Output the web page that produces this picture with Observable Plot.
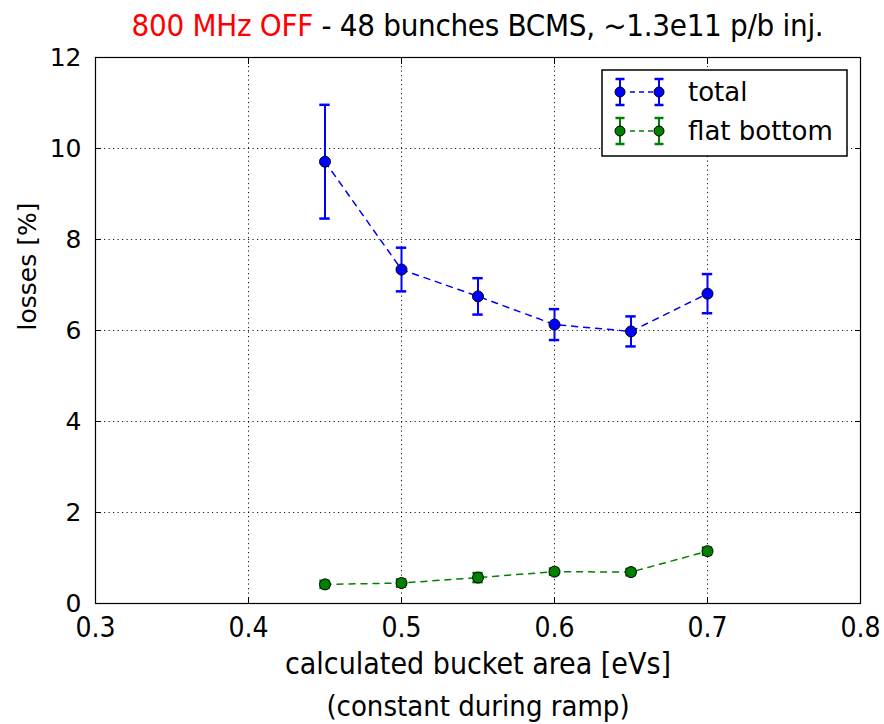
<!DOCTYPE html>
<html><head><meta charset="utf-8">
<script src="https://cdn.jsdelivr.net/npm/d3@7"></script>
<script src="https://cdn.jsdelivr.net/npm/@observablehq/plot@0.6"></script>
<style>
body{margin:0;background:#fff}
#wrap{position:relative;width:884px;height:724px;overflow:hidden}
#title{position:absolute;top:7px;left:95px;width:765px;text-align:center;font:31px "Liberation Sans Narrow","DejaVu Sans Condensed",sans-serif;white-space:nowrap;color:#000;letter-spacing:-0.3px}
#legend{position:absolute;left:601px;top:69px}
</style></head><body>
<div id="wrap"><div id="title"><span style="color:#ff0000">800 MHz OFF</span> - 48 bunches BCMS, ~1.3e11 p/b inj.</div></div>
<script>
const bucketArea = [0.45, 0.5, 0.55, 0.6, 0.65, 0.7];
const totalLoss = [9.71, 7.34, 6.75, 6.13, 5.98, 6.81];
const totalErr  = [1.25, 0.48, 0.40, 0.34, 0.33, 0.43];
const flatLoss  = [0.42, 0.45, 0.57, 0.70, 0.69, 1.15];
const flatErr   = [0.08, 0.08, 0.10, 0.07, 0.07, 0.08];
const xTicks = [0.3, 0.4, 0.5, 0.6, 0.7, 0.8];
const yTicks = [0, 2, 4, 6, 8, 10, 12];
const seriesNames = ["total", "flat bottom"];
const seriesColors = ["#0000ff", "#008000"];

const rows = [];
bucketArea.forEach((x, i) => {
  rows.push({series: seriesNames[0], x, y: totalLoss[i], e: totalErr[i]});
});
bucketArea.forEach((x, i) => {
  rows.push({series: seriesNames[1], x, y: flatLoss[i], e: flatErr[i]});
});
const colorOf = s => seriesColors[seriesNames.indexOf(s)];
const capHalf = 0.0034;

const condensed = '"Liberation Sans Narrow","DejaVu Sans Condensed",sans-serif';

const marks = [
  Plot.gridX(xTicks.slice(1, -1), {stroke: "#000", strokeOpacity: 0.9, strokeDasharray: "1.2,3.3", strokeWidth: 1}),
  Plot.gridY(yTicks.slice(1, -1), {stroke: "#000", strokeOpacity: 0.9, strokeDasharray: "1.2,3.3", strokeWidth: 1}),
  Plot.frame({stroke: "#000", strokeWidth: 1.2}),
  Plot.axisX(xTicks, {anchor: "bottom", tickSize: -6, text: null, label: null, stroke: "#000"}),
  Plot.axisX(xTicks, {anchor: "top", tickSize: -6, text: null, label: null, stroke: "#000"}),
  Plot.axisY(yTicks, {anchor: "left", tickSize: -6, text: null, label: null, stroke: "#000"}),
  Plot.axisY(yTicks, {anchor: "right", tickSize: -6, text: null, label: null, stroke: "#000"}),
  Plot.axisX(xTicks, {anchor: "bottom", tickSize: 0, tickPadding: 14, label: null, fontSize: 28, fontFamily: condensed, fill: "#000", tickFormat: d3.format(".1f")}),
  Plot.axisY(yTicks, {anchor: "left", tickSize: 0, tickPadding: 14, label: null, fontSize: 25, fontFamily: "DejaVu Sans", fill: "#000"}),
  Plot.line(rows, {x: "x", y: "y", z: "series", stroke: d => colorOf(d.series), strokeWidth: 1.5, strokeDasharray: "6,6"}),
  Plot.ruleX(rows, {x: "x", y1: d => d.y - d.e, y2: d => d.y + d.e, stroke: d => colorOf(d.series), strokeWidth: 2}),
  Plot.ruleY(rows, {y: d => d.y - d.e, x1: d => d.x - capHalf, x2: d => d.x + capHalf, stroke: d => colorOf(d.series), strokeWidth: 2.5}),
  Plot.ruleY(rows, {y: d => d.y + d.e, x1: d => d.x - capHalf, x2: d => d.x + capHalf, stroke: d => colorOf(d.series), strokeWidth: 2.5}),
  Plot.dot(rows, {x: "x", y: "y", r: 5.5, fill: d => colorOf(d.series), stroke: "#000", strokeWidth: 1}),
  Plot.text(["calculated bucket area [eVs]"], {frameAnchor: "bottom", dy: 61, text: d => d, fontSize: 30, fontFamily: condensed, fill: "#000", lineAnchor: "middle"}),
  Plot.text(["(constant during ramp)"], {frameAnchor: "bottom", dy: 103, text: d => d, fontSize: 29, fontFamily: condensed, fill: "#000", lineAnchor: "middle"}),
  Plot.text(["losses [%]"], {frameAnchor: "left", dx: -68, rotate: -90, text: d => d, fontSize: 25, fontFamily: "DejaVu Sans", fill: "#000", lineAnchor: "middle"})
];

const chart = Plot.plot({
  width: 884,
  height: 724,
  marginLeft: 95,
  marginRight: 24,
  marginTop: 57,
  marginBottom: 121,
  x: {domain: [0.3, 0.8]},
  y: {domain: [0, 12]},
  style: {background: "transparent", color: "#000"},
  marks
});
document.getElementById("wrap").prepend(chart);

// legend
const ns = "http://www.w3.org/2000/svg";
const lg = document.createElementNS(ns, "svg");
lg.setAttribute("id", "legend");
lg.setAttribute("width", 248);
lg.setAttribute("height", 90);
let html = `<rect x="1" y="1" width="245" height="86" fill="#fff" stroke="#000" stroke-width="1.5"/>`;
seriesNames.forEach((name, i) => {
  const cy = 23 + i * 39;
  const c = seriesColors[i];
  html += `<line x1="25" x2="54" y1="${cy}" y2="${cy}" stroke="${c}" stroke-width="1.5" stroke-dasharray="5,4" stroke-dashoffset="-4"/>`;
  [19, 58].forEach(cx => {
    html += `<line x1="${cx}" x2="${cx}" y1="${cy-13}" y2="${cy+13}" stroke="${c}" stroke-width="2"/>`;
    html += `<line x1="${cx-4.5}" x2="${cx+4.5}" y1="${cy-13}" y2="${cy-13}" stroke="${c}" stroke-width="2.5"/>`;
    html += `<line x1="${cx-4.5}" x2="${cx+4.5}" y1="${cy+13}" y2="${cy+13}" stroke="${c}" stroke-width="2.5"/>`;
    html += `<circle cx="${cx}" cy="${cy}" r="5" fill="${c}" stroke="#000" stroke-width="1"/>`;
  });
  html += `<text x="87" y="${cy}" dy="0.35em" font-family="DejaVu Sans" font-size="26" fill="#000">${name}</text>`;
});
lg.innerHTML = html;
document.getElementById("wrap").appendChild(lg);
</script>
</body></html>
